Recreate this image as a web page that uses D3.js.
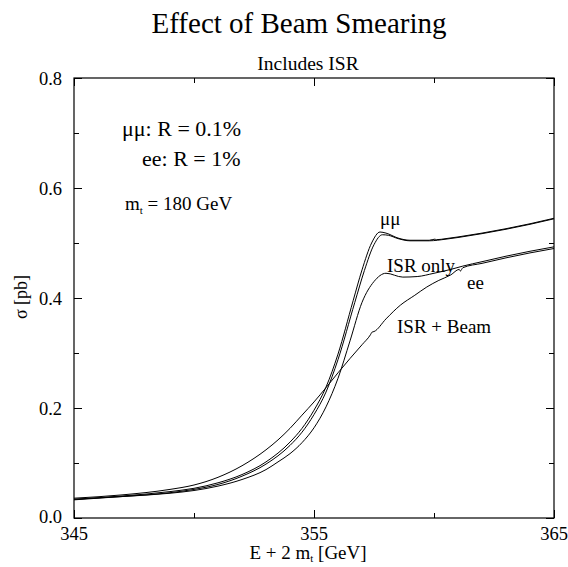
<!DOCTYPE html>
<html>
<head>
<meta charset="utf-8">
<script src="https://cdn.jsdelivr.net/npm/d3@7"></script>
<style>
  body { margin: 0; background: #fff; }
</style>
</head>
<body>
<div id="chart"></div>
<script>
// Cross sections (E + 2 m_t in GeV, sigma in pb)
const muA_E = [345, 347, 349, 350, 351, 352, 353, 354, 354.5, 355, 355.5, 356, 356.63, 357, 357.4, 357.75, 358, 358.5, 359, 359.8, 360.04, 360.1, 360.5, 361, 362, 363, 364, 365];
const muA_S = [0.034, 0.040, 0.048, 0.054, 0.064, 0.079, 0.102, 0.138, 0.163, 0.196, 0.238, 0.298, 0.395, 0.451, 0.500, 0.520, 0.518, 0.509, 0.505, 0.505, 0.507, 0.506, 0.508, 0.511, 0.518, 0.526, 0.535, 0.545];
const muB_E = [345, 347, 349, 350, 351, 352, 353, 354, 354.5, 355, 355.5, 356, 356.7, 357.1, 357.5, 357.85, 358.1, 358.5, 359, 359.8, 360.5, 361, 362, 363, 364, 365];
const muB_S = [0.033, 0.039, 0.046, 0.052, 0.061, 0.076, 0.098, 0.132, 0.156, 0.188, 0.229, 0.288, 0.392, 0.450, 0.497, 0.515, 0.514, 0.508, 0.504, 0.504, 0.507, 0.510, 0.517, 0.525, 0.534, 0.544];
const eeIsr_E = [345, 347, 349, 350, 351, 352, 353, 353.5, 354, 354.5, 355, 355.5, 356, 356.5, 357, 357.5, 358, 358.7, 359.3, 360, 360.7, 361.2, 362, 363, 364, 365];
const eeIsr_S = [0.034, 0.039, 0.045, 0.050, 0.058, 0.070, 0.088, 0.102, 0.117, 0.137, 0.164, 0.202, 0.254, 0.322, 0.392, 0.430, 0.445, 0.438, 0.439, 0.445, 0.452, 0.458, 0.466, 0.476, 0.485, 0.493];
const eeBeam_E = [345, 347, 349, 350, 351, 352, 353, 353.5, 354, 354.5, 355, 355.5, 356, 356.5, 357, 357.35, 357.42, 357.5, 358, 358.6, 359.2, 359.7, 360.2, 360.7, 361.05, 361.1, 361.2, 362, 363, 364, 365];
const eeBeam_S = [0.036, 0.042, 0.052, 0.060, 0.074, 0.095, 0.124, 0.142, 0.163, 0.187, 0.211, 0.237, 0.264, 0.290, 0.315, 0.333, 0.338, 0.339, 0.362, 0.387, 0.405, 0.420, 0.432, 0.442, 0.452, 0.449, 0.455, 0.463, 0.473, 0.482, 0.490];

const xMajor = [345, 355, 365];
const xMinor = [350, 360];
const yMajor = [0.0, 0.2, 0.4, 0.6, 0.8];
const yMinor = [0.1, 0.3, 0.5, 0.7];

const W = 568, H = 567;
const margin = {top: 78, right: 14, bottom: 49, left: 74};
const width = W - margin.left - margin.right;
const height = H - margin.top - margin.bottom;
const serif = "'Liberation Serif', 'Times New Roman', serif";

const svg = d3.select("#chart").append("svg")
  .attr("width", W)
  .attr("height", H)
  .attr("font-family", serif);

const g = svg.append("g")
  .attr("transform", `translate(${margin.left},${margin.top})`);

const x = d3.scaleLinear().domain([345, 365]).range([0, width]);
const y = d3.scaleLinear().domain([0, 0.8]).range([height, 0]);

// inward ticks on all four sides
function tickAxis(axisFn, scale, values, size, transform) {
  const a = g.append("g")
    .attr("transform", transform)
    .call(axisFn(scale).tickValues(values).tickSize(size).tickFormat(""));
  a.select(".domain").remove();
  a.selectAll("line").attr("stroke", "#000");
  return a;
}
tickAxis(d3.axisBottom, x, xMajor, -8, `translate(0,${height})`);
tickAxis(d3.axisBottom, x, xMinor, -5, `translate(0,${height})`);
tickAxis(d3.axisTop, x, xMajor, -8, "translate(0,0)");
tickAxis(d3.axisTop, x, xMinor, -5, "translate(0,0)");
tickAxis(d3.axisLeft, y, yMajor, -8, "translate(0,0)");
tickAxis(d3.axisLeft, y, yMinor, -5, "translate(0,0)");
tickAxis(d3.axisRight, y, yMajor, -8, `translate(${width},0)`);
tickAxis(d3.axisRight, y, yMinor, -5, `translate(${width},0)`);

// tick labels
g.selectAll(".xl").data(xMajor).enter().append("text")
  .attr("x", d => x(d))
  .attr("y", height + 22)
  .attr("text-anchor", "middle")
  .style("font-size", "18.5px")
  .text(d => d);

g.selectAll(".yl").data(yMajor).enter().append("text")
  .attr("x", -12)
  .attr("y", d => y(d) + (d === 0 ? 5 : 7))
  .attr("text-anchor", "end")
  .style("font-size", "18.5px")
  .text(d => d.toFixed(1));

// frame
g.append("rect")
  .attr("width", width)
  .attr("height", height)
  .attr("fill", "none")
  .attr("stroke", "#000")
  .attr("stroke-width", 1.2);

// curves
const line = d3.line()
  .x(d => x(d[0]))
  .y(d => y(d[1]))
  .curve(d3.curveMonotoneX);

const curves = [
  [muA_E, muA_S],
  [muB_E, muB_S],
  [eeIsr_E, eeIsr_S],
  [eeBeam_E, eeBeam_S]
];
curves.forEach(([es, ss]) => {
  g.append("path")
    .datum(es.map((e, i) => [e, ss[i]]))
    .attr("d", line)
    .attr("fill", "none")
    .attr("stroke", "#000")
    .attr("stroke-width", 1);
});

// titles
svg.append("text")
  .attr("x", 299).attr("y", 33)
  .attr("text-anchor", "middle")
  .style("font-size", "29px")
  .text("Effect of Beam Smearing");

svg.append("text")
  .attr("x", 308).attr("y", 70)
  .attr("text-anchor", "middle")
  .style("font-size", "19.5px")
  .text("Includes ISR");

// axis titles
const xt = svg.append("text")
  .attr("x", 308).attr("y", 559)
  .attr("text-anchor", "middle")
  .style("font-size", "19px");
xt.append("tspan").text("E + 2 m");
xt.append("tspan").attr("dy", 3).style("font-size", "11px").text("t");
xt.append("tspan").attr("dy", -3).text(" [GeV]");

svg.append("text")
  .attr("transform", "translate(27,297) rotate(-90)")
  .attr("text-anchor", "middle")
  .style("font-size", "18px")
  .text("σ [pb]");

// annotations
svg.append("text")
  .attr("x", 122).attr("y", 136)
  .style("font-size", "22px")
  .text("μμ: R = 0.1%");

svg.append("text")
  .attr("x", 142).attr("y", 166)
  .style("font-size", "22px")
  .text("ee: R = 1%");

const mt = svg.append("text")
  .attr("x", 125).attr("y", 210)
  .style("font-size", "19px");
mt.append("tspan").text("m");
mt.append("tspan").attr("dy", 4).style("font-size", "11px").text("t");
mt.append("tspan").attr("dy", -4).text(" = 180 GeV");

const labels = [
  {t: "μμ", x: 380, y: 225},
  {t: "ISR only", x: 387, y: 272},
  {t: "ee", x: 467, y: 289},
  {t: "ISR + Beam", x: 397, y: 333}
];
svg.selectAll(".lab").data(labels).enter().append("text")
  .attr("x", d => d.x).attr("y", d => d.y)
  .style("font-size", "19px")
  .text(d => d.t);
</script>
</body>
</html>
